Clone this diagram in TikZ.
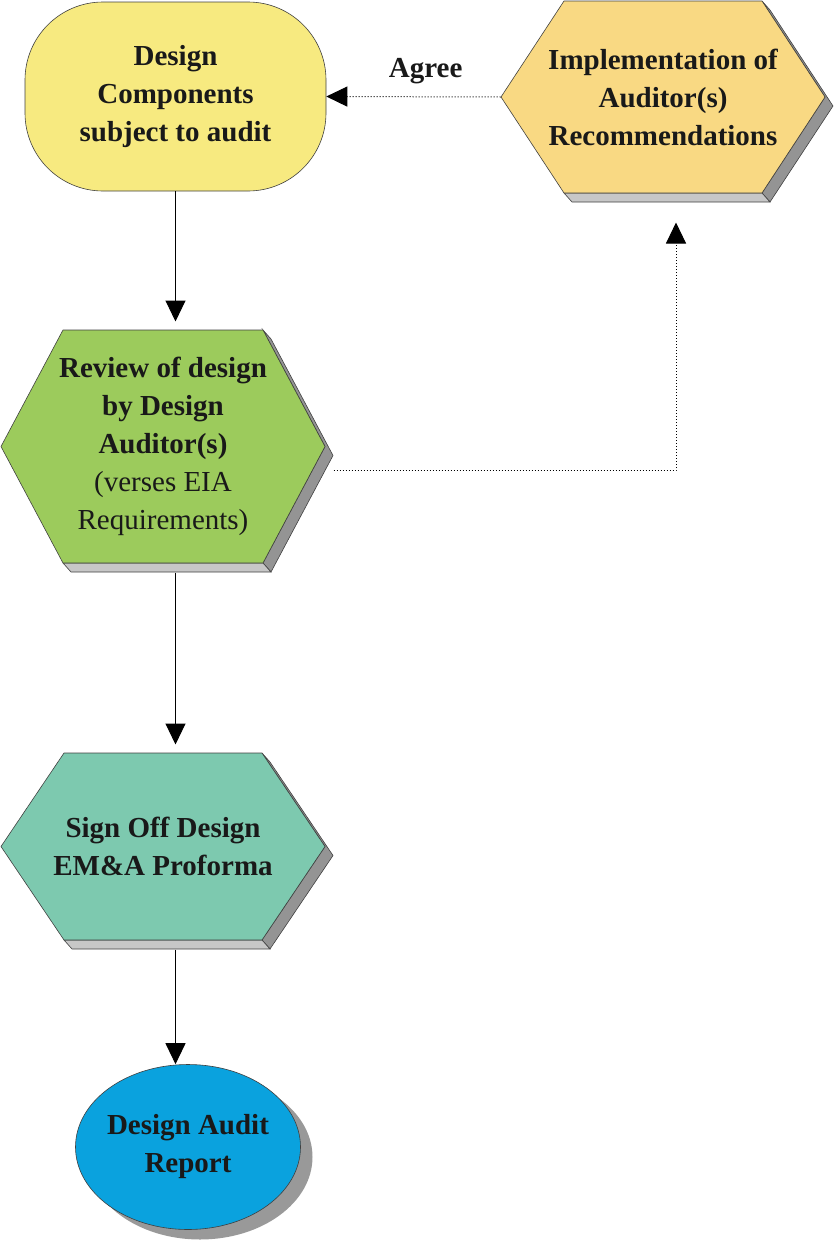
\documentclass[tikz,border=0pt]{standalone}
\usepackage{fontspec}
\setmainfont{Liberation Serif}
\usetikzlibrary{arrows.meta,shapes.geometric,shadows,backgrounds}

\definecolor{compyellow}{RGB}{247,234,128}
\definecolor{implorange}{RGB}{249,217,131}
\definecolor{revgreen}{RGB}{156,203,92}
\definecolor{signteal}{RGB}{125,201,175}
\definecolor{reportblue}{RGB}{10,162,222}

% hexagon with its grey rim: centre node, half width, half height, inset, colour
\newcommand{\hexshape}[5]{%
  \begin{scope}[shift={(#1)}]
    \filldraw[rim, fill=black!42] (#2-#4,-#3) -- (#2,0) -- (#2-#4,#3) -- ++(8,9) -- (#2+8,9) -- (#2-#4+8,-#3+9) -- cycle;
    \filldraw[rim, fill=black!22] (-#2+#4,#3) -- (#2-#4,#3) -- ++(8,9) -- (-#2+#4+8,#3+9) -- cycle;
    \filldraw[rim, fill=#5] (-#2,0) -- (-#2+#4,-#3) -- (#2-#4,-#3) -- (#2,0) -- (#2-#4,#3) -- (-#2+#4,#3) -- cycle;
  \end{scope}}

\begin{document}
\begin{tikzpicture}[x=1pt, y=-1pt, line width=1pt, >={Triangle[length=21pt,width=20pt]},
  box text/.style={align=center, text=black!90, font=\fontsize{29}{38}\selectfont\bfseries, inner sep=0pt},
  hex node/.style={box text},
  rim/.style={draw=black!75, line width=0.6pt},
  flow/.style={->, black},
  dots/.style={->, dash pattern=on 1pt off 2pt}]
\useasboundingbox (0,0) rectangle (834,1242);
\node [box text, draw=black!75, line width=0.6pt, fill=compyellow, rounded corners=78pt, minimum width=301pt, minimum height=189pt](v1) at (175.5,96.5) {Design\\Components\\subject to audit};
\node [hex node, minimum width=324pt, minimum height=192pt](v2) at (663,97) {Implementation of\\Auditor(s)\\Recommendations};
\node [hex node, minimum width=324pt, minimum height=233pt](v3) at (163,446.5) {Review of design\\by Design\\Auditor(s)\\\mdseries(verses EIA\\\mdseries Requirements)};
\node [hex node, minimum width=324pt, minimum height=187pt](v4) at (163,846.5) {Sign Off Design\\EM\&A Proforma};
\node [box text, ellipse, inner xsep=-8pt, draw=black!75, line width=0.6pt, fill=reportblue, minimum width=225pt, minimum height=165pt, drop shadow={shadow xshift=12pt, shadow yshift=-10pt, fill=black!40, opacity=1}](v5) at (188,1147) {Design Audit\\Report};
\begin{scope}[on background layer]
\hexshape{v2}{162}{96}{63}{implorange}
\hexshape{v3}{162}{116.5}{62}{revgreen}
\hexshape{v4}{162}{93.5}{63}{signteal}
\end{scope}
\path[flow]
	(v1) edge[shorten >=8pt] (v1 |- v3.north)
	(v3.south -| v1) edge[shorten <=9pt, shorten >=8pt] (v4.north -| v1)
	(v4.south -| v1) edge[shorten <=9pt] (v5.north -| v1)
	;
\path[dots]
	(v2.west) edge node[box text, pos=0.43, above=12pt] {Agree} (v1.east)
	;
\draw[dots] ([xshift=8pt,yshift=-23.5pt]v3.east) -| ([xshift=13pt,yshift=-29pt]v2.south);
\end{tikzpicture}
\end{document}
